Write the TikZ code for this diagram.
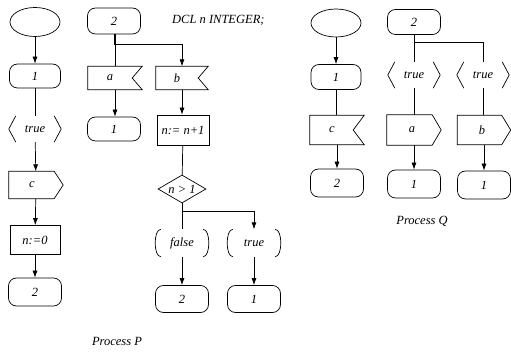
\documentclass[tikz,border=0pt]{standalone}
\usepackage{fontspec}
\setmainfont{Liberation Serif}
\usetikzlibrary{shapes.geometric,arrows.meta}
% angle brackets and round brackets drawn beside a condition node
\newcommand\anglepair[1]{%
  \draw[flow] ([xshift=7pt]#1.north west) -- (#1.west) -- ([xshift=7pt]#1.south west);
  \draw[flow] ([xshift=-7pt]#1.north east) -- (#1.east) -- ([xshift=-7pt]#1.south east);}
\newcommand\parenpair[1]{%
  \draw[flow] ([xshift=6pt]#1.north west) .. controls ([xshift=-1.5pt]#1.north west) and ([xshift=-1.5pt]#1.south west) .. ([xshift=6pt]#1.south west);
  \draw[flow] ([xshift=-6pt]#1.north east) .. controls ([xshift=1.5pt]#1.north east) and ([xshift=1.5pt]#1.south east) .. ([xshift=-6pt]#1.south east);}
% output symbol (pointed right side) and input symbol (notched right side)
\newcommand\outline[2]{%
  \draw[base] (#1.north west) -- ([xshift=-#2]#1.north east) -- (#1.east) -- ([xshift=-#2]#1.south east) -- (#1.south west) -- cycle;}
\newcommand\inline[2]{%
  \draw[base] (#1.north west) -- (#1.north east) -- ([xshift=-#2]#1.east) -- (#1.south east) -- (#1.south west) -- cycle;}
\begin{document}
\begin{tikzpicture}[x=1pt,y=-1pt,
  every node/.style={font=\itshape\fontsize{12.5}{14}\selectfont, inner sep=0pt},
  base/.style={draw, line width=0.7pt},
  startel/.style={base, ellipse, minimum width=50pt, minimum height=29pt},
  statebox/.style={base, rectangle, rounded corners=8pt, minimum width=53pt, minimum height=26pt},
  taskbox/.style={base, rectangle, minimum width=52pt, minimum height=29pt},
  sigbox/.style={rectangle, minimum width=54pt, minimum height=28pt},
  decision/.style={base, diamond, aspect=1.7, minimum width=48pt, minimum height=28pt},
  condbox/.style={rectangle, minimum width=52pt, minimum height=26pt},
  flow/.style={line width=0.7pt},
  arr/.style={flow, -{Latex[length=7pt,width=5pt]}}
]
\useasboundingbox (0,0) rectangle (511,352);

% ---------- Process P, first transition ----------
\node[startel] (p0) at (35,22) {};
\node[statebox, minimum width=51pt, minimum height=24pt] (p1) at (35,76) {1};
\node[condbox] (pt) at (35,129) {true};
\anglepair{pt}
\node[sigbox, minimum height=27pt] (pc) at (36,185) {c\hspace*{8pt}};
\outline{pc}{9pt}
\node[taskbox, minimum width=50pt] (pn) at (35,240) {n:=0};
\node[statebox, minimum height=28pt] (p2) at (35,292) {2};

\draw[arr] (p0) -- (p1);
\draw[flow] (p1) -- (pt);
\draw[arr] (pt) -- (pc);
\draw[arr] (pc) -- (pn);
\draw[arr] (pn) -- (p2);

% ---------- Process P, state 2 ----------
\node[statebox] (r2) at (114,21) {2};
\node[sigbox, minimum height=23pt] (ra) at (115,78) {a\hspace*{10pt}};
\inline{ra}{10pt}
\node[sigbox, minimum width=52pt, minimum height=23pt] (rb) at (182,78) {b\hspace*{10pt}};
\inline{rb}{10pt}
\node[statebox, minimum height=24pt] (r1) at (114,129) {1};
\node[taskbox, minimum height=30pt] (rn) at (183,130) {n:= n+1};
\node[decision] (rd) at (182,189) {n > 1};
\node[condbox, minimum width=54pt, minimum height=27pt] (rf) at (182,243) {false};
\parenpair{rf}
\node[condbox, minimum width=54pt, minimum height=27pt] (rt) at (254,243) {true};
\parenpair{rt}
\node[statebox, minimum height=27pt] (r2b) at (182,299) {2};
\node[statebox, minimum height=27pt] (r1b) at (254,299) {1};

\draw[flow] (r2.south -| ra.north) -- (ra.north);
\draw[arr] (r2.south) -- ++(0,10) -| (rb);
\draw[arr] (ra.south) -- (ra.south |- r1.north);
\draw[arr] (rb.south) -- (rb.south |- rn.north);
\draw[flow] (rn) -- (rd);
\draw[flow] (rd) -- (rf);
\draw[arr] (rd.south) -- ++(0,8) -| (rt);
\draw[arr] (rf) -- (r2b);
\draw[arr] (rt) -- (r1b);

\node[anchor=west] (dcl) at (172,20) {DCL n INTEGER;};
\node (procp) at (117,341) {Process P};

% ---------- Process Q ----------
\node[startel, minimum height=28pt] (s0) at (336,23) {};
\node[statebox, minimum width=50pt, minimum height=25pt] (s1) at (336,77) {1};
\node[sigbox, minimum height=29pt] (sc) at (337,130) {c\hspace*{10pt}};
\inline{sc}{11pt}
\node[statebox, minimum height=28pt] (s2) at (337,183) {2};

\draw[arr] (s0) -- (s1);
\draw[flow] (s1.south) -- (s1.south |- sc.north);
\draw[arr] (sc.south) -- (sc.south |- s2.north);

\node[statebox, minimum height=25pt] (t2) at (414,22) {2};
\node[condbox] (ta) at (414,75) {true};
\anglepair{ta}
\node[condbox] (tb) at (483,75) {true};
\anglepair{tb}
\node[sigbox, minimum height=30pt] (toa) at (414,130) {a\hspace*{4pt}};
\outline{toa}{9pt}
\node[sigbox, minimum width=53pt, minimum height=29pt] (tob) at (484,130) {b\hspace*{4pt}};
\outline{tob}{9pt}
\node[statebox, minimum height=28pt] (t1a) at (414,184) {1};
\node[statebox, minimum height=28pt] (t1b) at (484,185) {1};

\draw[flow] (t2) -- (ta);
\draw[flow] (t2.south) -- ++(0,8) -| (tb);
\draw[flow] (ta) -- (toa);
\draw[flow] (tb.south) -- (tb.south |- tob.north);
\draw[arr] (toa) -- (t1a);
\draw[arr] (tob) -- (t1b);

\node (procq) at (422,221) {Process Q};
\end{tikzpicture}
\end{document}
